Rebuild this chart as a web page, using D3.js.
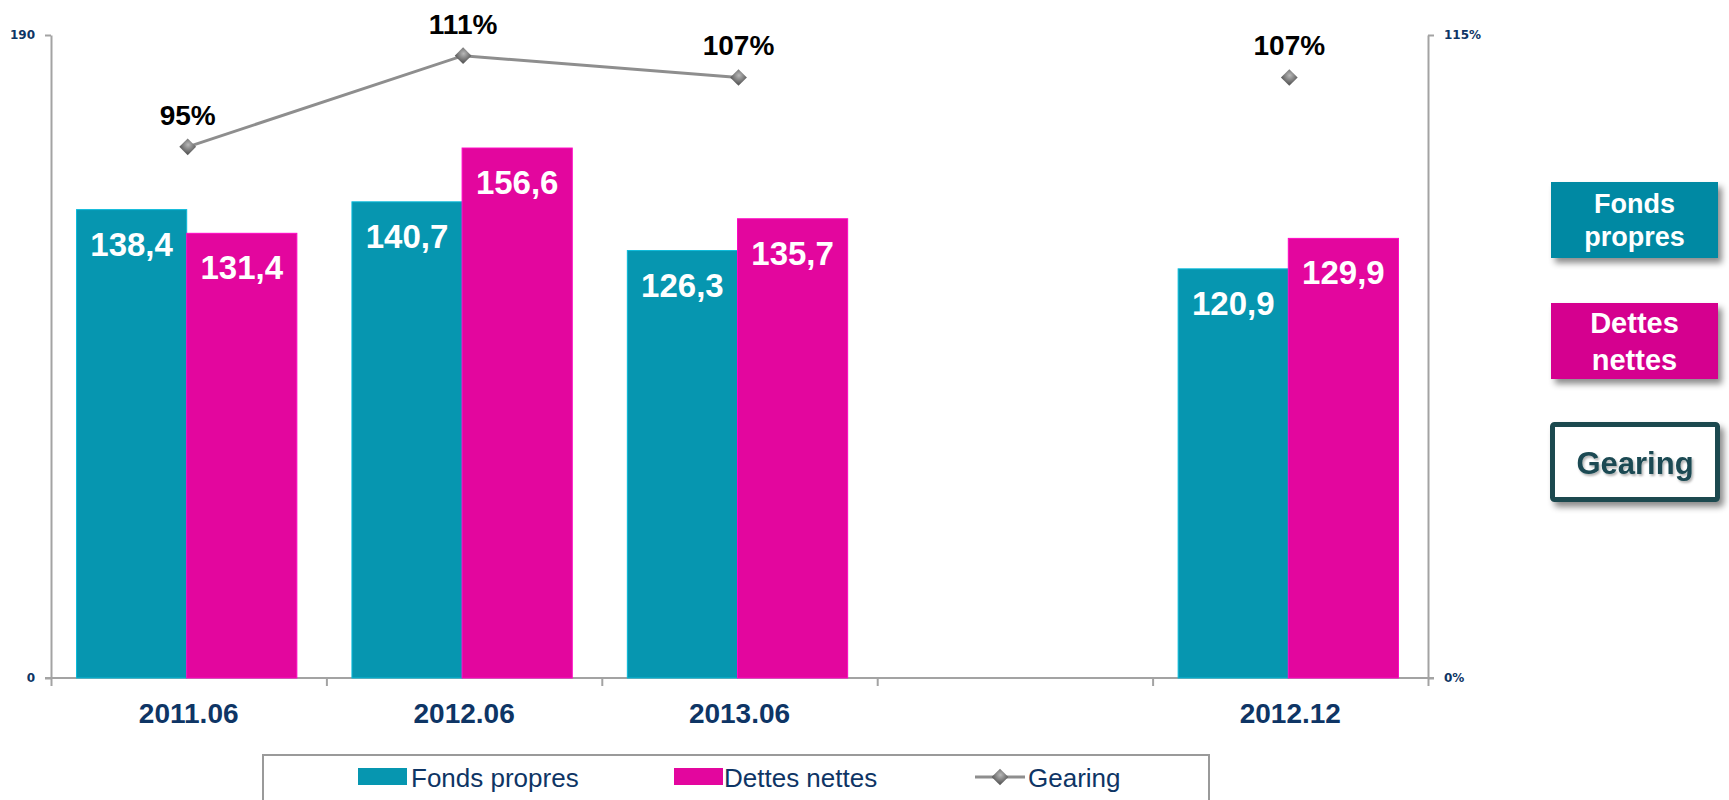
<!DOCTYPE html>
<html>
<head>
<meta charset="utf-8">
<script src="https://cdn.jsdelivr.net/npm/d3@7"></script>
<style>
  body { margin: 0; background: #fff; }
  svg { font-family: "Liberation Sans", Arial, sans-serif; }
</style>
</head>
<body>
<div id="chart"></div>
<script>
// chart data
const categories = ["2011.06", "2012.06", "2013.06", "", "2012.12"];
const fondsPropres = [138.4, 140.7, 126.3, null, 120.9];
const dettesNettes = [131.4, 156.6, 135.7, null, 129.9];
const gearing = [95.0, 111.3, 107.4, null, 107.4];
const leftTicks = [0, 190];
const rightTicks = [0, 115];

const colFonds = "#0696b0";
const colDettes = "#e3069e";
const navy = "#0e3565";
const axisGrey = "#a3a3a3";

const width = 1729, height = 800;
const plotLeft = 51, plotRight = 1428, plotTop = 35, plotBottom = 678;

const svg = d3.select("#chart").append("svg")
  .attr("width", width)
  .attr("height", height);

const defs = svg.append("defs");
const shadow = defs.append("filter").attr("id", "shadow")
  .attr("x", "-20%").attr("y", "-20%").attr("width", "150%").attr("height", "160%");
shadow.append("feDropShadow")
  .attr("dx", 4).attr("dy", 5).attr("stdDeviation", 3)
  .attr("flood-color", "#000").attr("flood-opacity", 0.45);

const textShadow = defs.append("filter").attr("id", "tshadow");
textShadow.append("feDropShadow")
  .attr("dx", 1.5).attr("dy", 2).attr("stdDeviation", 1.2)
  .attr("flood-color", "#000").attr("flood-opacity", 0.3);

const grad = defs.append("radialGradient").attr("id", "diamond")
  .attr("cx", "40%").attr("cy", "35%").attr("r", "70%");
grad.append("stop").attr("offset", "0%").attr("stop-color", "#b8b8b8");
grad.append("stop").attr("offset", "100%").attr("stop-color", "#5e5e5e");

// scales
const x0 = d3.scaleBand().domain(d3.range(categories.length)).range([plotLeft, plotRight]).padding(0);
const x1 = d3.scaleBand().domain(["fonds", "dettes"]).range([-2, x0.bandwidth() - 2])
  .paddingInner(0).paddingOuter(0.25);
const y = d3.scaleLinear().domain([0, 190]).range([plotBottom, plotTop]);
const y2 = d3.scaleLinear().domain([0, 115]).range([plotBottom, plotTop]);

// axes
const axisStyle = g => {
  g.select(".domain").attr("stroke", axisGrey).attr("stroke-width", 2);
  g.selectAll(".tick line").attr("stroke", axisGrey).attr("stroke-width", 2);
  g.selectAll(".tick text").attr("fill", navy).attr("font-weight", "bold")
    .attr("font-family", "'DejaVu Sans', sans-serif");
};

svg.append("g")
  .attr("transform", `translate(${plotLeft},0)`)
  .call(d3.axisLeft(y).tickValues(leftTicks).tickSize(6).tickSizeOuter(0).tickPadding(10))
  .call(axisStyle)
  .call(g => g.selectAll(".tick text").attr("font-size", 12));

svg.append("g")
  .attr("transform", `translate(${plotRight},0)`)
  .call(d3.axisRight(y2).tickValues(rightTicks).tickFormat(d => d + "%")
    .tickSize(6).tickSizeOuter(0).tickPadding(10))
  .call(axisStyle)
  .call(g => g.selectAll(".tick text").attr("font-size", 12));

// bottom axis: line with ticks at category boundaries
const xb = d3.scaleLinear().domain([0, categories.length]).range([plotLeft, plotRight]);
svg.append("g")
  .attr("transform", `translate(0,${plotBottom})`)
  .call(d3.axisBottom(xb).tickValues(d3.range(categories.length + 1))
    .tickFormat("").tickSize(8).tickSizeOuter(0))
  .call(axisStyle)
  .call(g => g.select(".domain").attr("d", `M${plotLeft - 6},0H${plotRight + 6}`));

// category labels
svg.append("g").selectAll("text")
  .data(categories)
  .join("text")
  .attr("x", (d, i) => x0(i) + x0.bandwidth() / 2)
  .attr("y", 723)
  .attr("text-anchor", "middle")
  .attr("font-size", 28)
  .attr("font-weight", "bold")
  .attr("fill", navy)
  .text(d => d);

// bars
const barData = [];
categories.forEach((c, i) => {
  if (fondsPropres[i] != null) barData.push({ i, key: "fonds", v: fondsPropres[i], color: colFonds });
  if (dettesNettes[i] != null) barData.push({ i, key: "dettes", v: dettesNettes[i], color: colDettes });
});

svg.append("g").selectAll("rect")
  .data(barData)
  .join("rect")
  .attr("x", d => x0(d.i) + x1(d.key))
  .attr("y", d => y(d.v))
  .attr("width", x1.bandwidth())
  .attr("height", d => y(0) - y(d.v))
  .attr("fill", d => d.color)
  .attr("stroke", d => d3.color(d.color).brighter(0.6))
  .attr("stroke-width", 1);

const fmt = d3.format(".1f");
svg.append("g").selectAll("text")
  .data(barData)
  .join("text")
  .attr("x", d => x0(d.i) + x1(d.key) + x1.bandwidth() / 2)
  .attr("y", d => y(d.v) + 46)
  .attr("text-anchor", "middle")
  .attr("font-size", 33)
  .attr("font-weight", "bold")
  .attr("fill", "#fff")
  .text(d => fmt(d.v).replace(".", ","));

// gearing line
const gx = i => x0(i) + x0.bandwidth() / 2 - 1;
const line = d3.line()
  .defined(d => d != null)
  .x((d, i) => gx(i))
  .y(d => y2(d));

svg.append("path")
  .datum(gearing)
  .attr("fill", "none")
  .attr("stroke", "#8e8e8e")
  .attr("stroke-width", 3)
  .attr("d", line);

const diamond = d3.symbol().type(d3.symbolSquare).size(140);
const gPts = gearing.map((v, i) => ({ v, i })).filter(d => d.v != null);

svg.append("g").selectAll("path")
  .data(gPts)
  .join("path")
  .attr("d", diamond)
  .attr("transform", d => `translate(${gx(d.i)},${y2(d.v)}) rotate(45)`)
  .attr("fill", "url(#diamond)");

svg.append("g").selectAll("text")
  .data(gPts)
  .join("text")
  .attr("x", d => gx(d.i))
  .attr("y", d => y2(d.v) - 22)
  .attr("text-anchor", "middle")
  .attr("font-size", 28)
  .attr("font-weight", "bold")
  .attr("fill", "#000")
  .text(d => Math.round(d.v) + "%");

// bottom legend
const legend = svg.append("g");
legend.append("rect")
  .attr("x", 263).attr("y", 755)
  .attr("width", 946).attr("height", 60)
  .attr("fill", "#fff")
  .attr("stroke", "#9a9a9a")
  .attr("stroke-width", 2);

const legendItems = [
  { label: "Fonds propres", color: colFonds, sx: 358, tx: 411 },
  { label: "Dettes nettes", color: colDettes, sx: 674, tx: 724 },
  { label: "Gearing", color: null, sx: 975, tx: 1028 }
];

legendItems.forEach(d => {
  if (d.color) {
    legend.append("rect")
      .attr("x", d.sx).attr("y", 768)
      .attr("width", 49).attr("height", 17)
      .attr("fill", d.color);
  } else {
    legend.append("line")
      .attr("x1", d.sx).attr("x2", d.sx + 50)
      .attr("y1", 777).attr("y2", 777)
      .attr("stroke", "#8e8e8e").attr("stroke-width", 3);
    legend.append("path")
      .attr("d", diamond)
      .attr("transform", `translate(${d.sx + 25},777) rotate(45)`)
      .attr("fill", "url(#diamond)");
  }
  legend.append("text")
    .attr("x", d.tx).attr("y", 787)
    .attr("font-size", 26)
    .attr("fill", navy)
    .text(d.label);
});

// side label boxes
const side = svg.append("g");
const sideBoxes = [
  { lines: ["Fonds", "propres"], fill: "#0489a3", y: 182, h: 76, base: [213, 246], size: 27, color: "#fff" },
  { lines: ["Dettes", "nettes"], fill: "#d5008f", y: 303, h: 76, base: [333, 370], size: 29, color: "#fff" }
];

sideBoxes.forEach(b => {
  side.append("rect")
    .attr("x", 1551).attr("y", b.y)
    .attr("width", 167).attr("height", b.h)
    .attr("fill", b.fill)
    .attr("filter", "url(#shadow)");
  b.lines.forEach((t, k) => {
    side.append("text")
      .attr("x", 1634.5).attr("y", b.base[k])
      .attr("text-anchor", "middle")
      .attr("font-size", b.size)
      .attr("font-weight", "bold")
      .attr("fill", b.color)
      .text(t);
  });
});

side.append("rect")
  .attr("x", 1552.5).attr("y", 424.5)
  .attr("width", 165).attr("height", 75)
  .attr("rx", 2)
  .attr("fill", "#fff")
  .attr("stroke", "#1e4a4f")
  .attr("stroke-width", 5)
  .attr("filter", "url(#shadow)");

side.append("text")
  .attr("x", 1635).attr("y", 474)
  .attr("text-anchor", "middle")
  .attr("font-size", 31)
  .attr("font-weight", "bold")
  .attr("fill", "#1a4a52")
  .attr("filter", "url(#tshadow)")
  .text("Gearing");
</script>
</body>
</html>
